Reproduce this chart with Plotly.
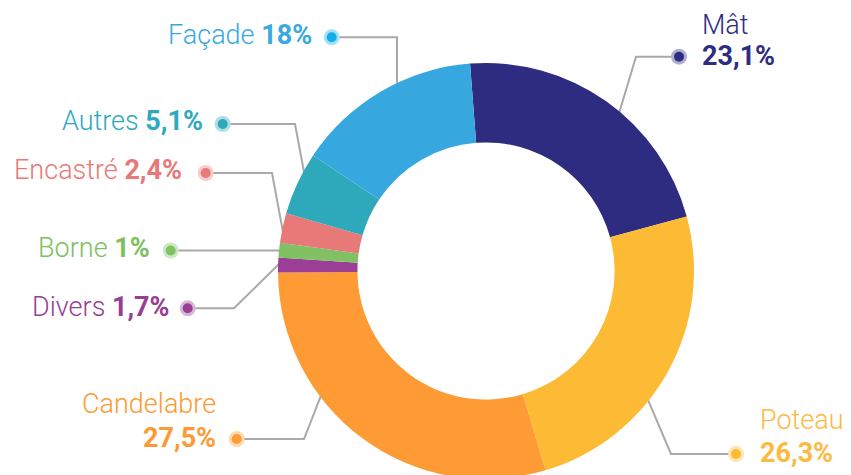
import plotly.graph_objects as go

# ---------------- data ----------------
categories = ["Mât", "Poteau", "Candelabre", "Divers", "Borne", "Encastré", "Autres", "Façade"]
# slice shares as drawn in the picture (measured from slice angles)
slice_share = [22.0, 24.6, 29.5, 1.15, 1.15, 2.3, 4.9, 14.4]
# percentages printed on the labels
printed_pct = ["23,1%", "26,3%", "27,5%", "1,7%", "1%", "2,4%", "5,1%", "18%"]

# ---------------- styles ----------------
slice_colors = ["#2d2c80", "#fdbb35", "#fe9b35", "#9a3f95", "#80c163", "#e87979", "#2ea8bb", "#37a8df"]
text_colors = ["#2e2d82", "#fdb940", "#fd9a33", "#983c94", "#7dc060", "#e97878", "#2ea9be", "#3aa9e0"]
dot_colors = ["#2e2d82", "#fdbb35", "#fe9b35", "#9a3f95", "#80c163", "#e87979", "#2ea8bb", "#12aeea"]
LINE_COLOR = "#a9a9ad"
FONT = "Roboto"
FS = 27

W, H = 851, 475
OFF = 8  # page body margin: figure is drawn 8px right/down in the page
CX, CY, R = 486, 271, 208  # page pixels


def px(x):
    return (x - OFF) / W


def py(y):
    return 1 - (y - OFF) / H


def lighten(hexc, a=0.35):
    h = hexc.lstrip("#")
    r, g, b = int(h[0:2], 16), int(h[2:4], 16), int(h[4:6], 16)
    r = int(r * a + 255 * (1 - a))
    g = int(g * a + 255 * (1 - a))
    b = int(b * a + 255 * (1 - a))
    return f"rgb({r},{g},{b})"


fig = go.Figure()
fig.add_trace(go.Pie(
    labels=categories,
    values=slice_share,
    sort=False,
    direction="clockwise",
    rotation=-4.4,
    hole=0.618,
    marker=dict(colors=slice_colors, line=dict(width=0)),
    textinfo="none",
    hoverinfo="label",
    showlegend=False,
    domain=dict(x=[px(CX - R), px(CX + R)], y=[py(CY + R), py(CY - R)]),
))

# leader geometry (page pixels): dot -> elbow -> ring
leaders = {
    "Mât": [(679, 56.7), (636, 56.7), (620, 110)],
    "Poteau": [(736, 454), (671, 454), (648, 400)],
    "Candelabre": [(236.7, 439), (304, 439), (320, 398)],
    "Divers": [(187.7, 308.3), (234, 308.3), (278, 265)],
    "Borne": [(170.7, 250.5), (279, 250.5)],
    "Encastré": [(205.7, 173), (272, 173), (283, 232)],
    "Autres": [(222.7, 124), (295, 124), (304, 172)],
    "Façade": [(331.7, 37.3), (397, 37.3), (397, 83)],
}

shapes = []
for i, cat in enumerate(categories):
    pts = list(leaders[cat])
    (x1, y1), (x2, y2) = pts[-2], pts[-1]
    d = ((x2 - x1) ** 2 + (y2 - y1) ** 2) ** 0.5
    pts[-1] = (x2 + (x2 - x1) / d * 12, y2 + (y2 - y1) / d * 12)
    path = "M " + " L ".join(f"{px(x):.5f},{py(y):.5f}" for x, y in pts)
    shapes.append(dict(type="path", path=path, xref="paper", yref="paper",
                       line=dict(color=LINE_COLOR, width=2), layer="below"))
for i, cat in enumerate(categories):
    dx, dy = leaders[cat][0]
    for rr, col in ((8, lighten(dot_colors[i], 0.38)), (5, dot_colors[i])):
        shapes.append(dict(type="circle", xref="paper", yref="paper",
                           x0=px(dx - rr), x1=px(dx + rr), y0=py(dy + rr), y1=py(dy - rr),
                           fillcolor=col, line=dict(width=0), layer="above"))

# text layout (page pixels)
single = {  # right edge x, cap-centre y
    "Façade": (314, 35),
    "Autres": (205, 121),
    "Encastré": (184, 170.5),
    "Borne": (152, 248),
    "Divers": (172, 307),
}
annotations = []
for i, cat in enumerate(categories):
    col = text_colors[i]
    if cat in single:
        x, y = single[cat]
        annotations.append(dict(text=f"{cat} <b>{printed_pct[i]}</b>", x=px(x), y=py(y),
                                xref="paper", yref="paper", xanchor="right", yanchor="middle",
                                showarrow=False, font=dict(family=FONT, size=FS, color=col, weight=300)))
mult = {  # anchor, x, name y, pct y
    "Mât": ("left", 700, 25, 56),
    "Candelabre": ("right", 218, 404, 438),
    "Poteau": ("left", 758, 420, 453),
}
for i, cat in enumerate(categories):
    if cat in mult:
        anc, x, y1, y2 = mult[cat]
        col = text_colors[i]
        annotations.append(dict(text=cat, x=px(x), y=py(y1), xref="paper", yref="paper",
                                xanchor=anc, yanchor="middle", showarrow=False,
                                font=dict(family=FONT, size=FS, color=col, weight=300)))
        annotations.append(dict(text=f"<b>{printed_pct[i]}</b>", x=px(x), y=py(y2), xref="paper", yref="paper",
                                xanchor=anc, yanchor="middle", showarrow=False,
                                font=dict(family=FONT, size=FS, color=col)))

fig.update_layout(
    width=W, height=H,
    margin=dict(l=0, r=0, t=0, b=0),
    paper_bgcolor="white", plot_bgcolor="white",
    shapes=shapes, annotations=annotations,
    showlegend=False,
)

fig.write_html("out.html")
